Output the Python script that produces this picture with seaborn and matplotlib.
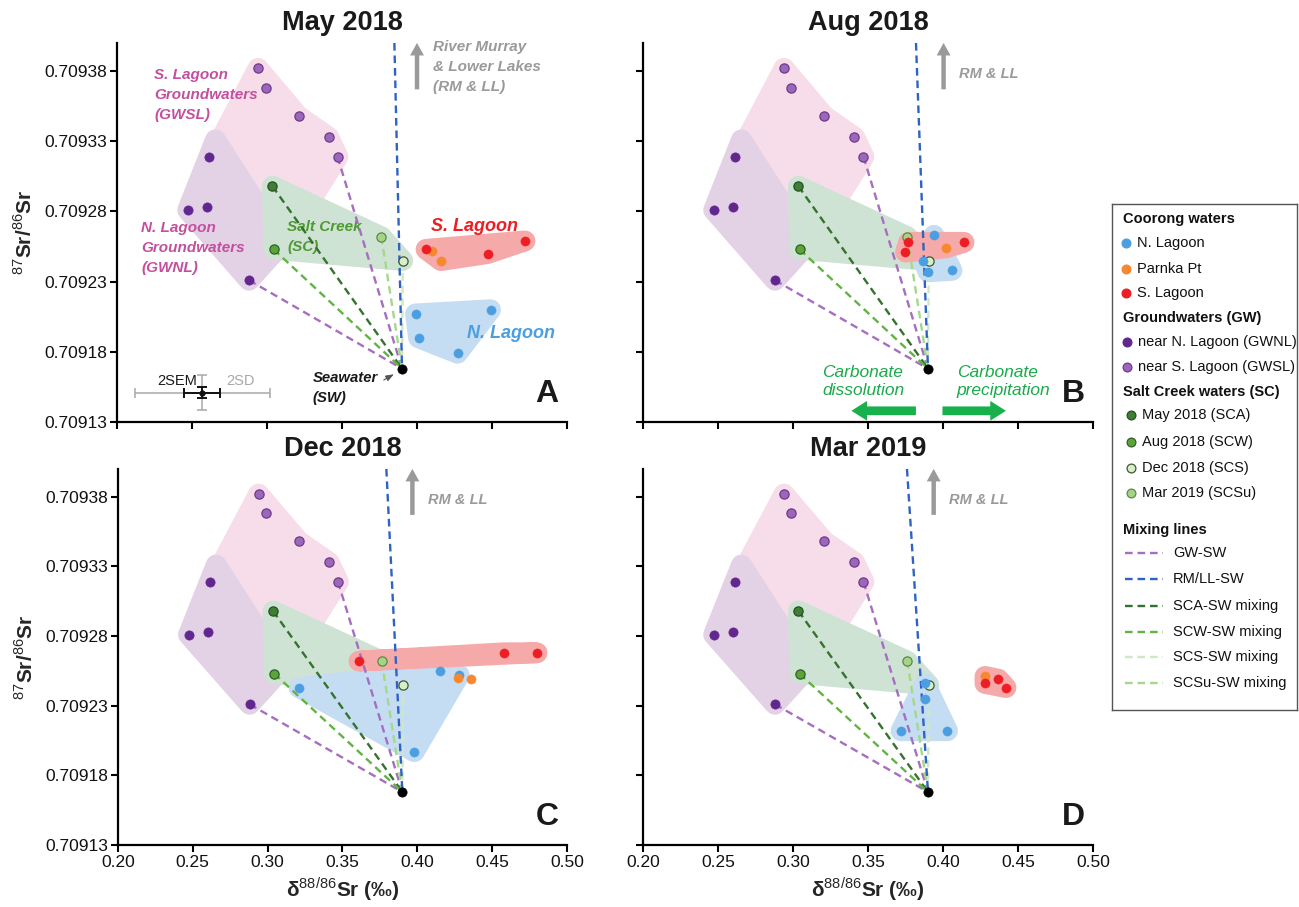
import numpy as np
import matplotlib
matplotlib.use("Agg")
import matplotlib.pyplot as plt
import seaborn as sns
from matplotlib.ticker import FixedLocator, StrMethodFormatter

# ---------------------------------------------------------------- data
campaigns = ["May 2018", "Aug 2018", "Dec 2018", "Mar 2019"]
panel_tags = ["A", "B", "C", "D"]

x_ticks = [0.20, 0.25, 0.30, 0.35, 0.40, 0.45, 0.50]
y_ticks = [0.70913, 0.70918, 0.70923, 0.70928, 0.70933, 0.70938]

# Groundwaters (same in every campaign)
gwsl_d88 = [0.294, 0.299, 0.321, 0.341, 0.347]
gwsl_sr = [0.709382, 0.709368, 0.709348, 0.709333, 0.709319]
gwnl_d88 = [0.2616, 0.2476, 0.2600, 0.2880]
gwnl_sr = [0.709319, 0.709281, 0.709283, 0.709231]

# Outlines of the groundwater fields
gwsl_field_d88 = [0.2940, 0.3209, 0.3411, 0.3473, 0.3222, 0.2689]
gwsl_field_sr = [0.709382, 0.709348, 0.709333, 0.709319, 0.709276, 0.709331]
gwnl_field_d88 = [0.2656, 0.2471, 0.2880, 0.3100]
gwnl_field_sr = [0.709331, 0.709281, 0.709231, 0.709257]

# Salt Creek waters: SCA, SCW, SCS, SCSu
sc_names = ["SCA", "SCW", "SCS", "SCSu"]
sc_d88 = [0.3036, 0.3044, 0.3905, 0.3762]
sc_sr = [0.709298, 0.709253, 0.709245, 0.709262]

# Seawater
sw_d88 = 0.3900
sw_sr = 0.709168

# River Murray & Lower Lakes mixing direction (d88 where the line leaves the top)
rmll_top_d88 = [0.3849, 0.3820, 0.3793, 0.3760]

# Coorong waters per campaign
may_nlag_d88 = [0.399, 0.401, 0.449, 0.427]
may_nlag_sr = [0.709207, 0.709190, 0.709210, 0.709179]
may_pp_d88 = [0.410, 0.416]
may_pp_sr = [0.709252, 0.709245]
may_slag_d88 = [0.406, 0.447, 0.472]
may_slag_sr = [0.709253, 0.709250, 0.709259]

aug_nlag_d88 = [0.394, 0.387, 0.390, 0.406]
aug_nlag_sr = [0.709263, 0.709245, 0.709237, 0.709238]
aug_pp_d88 = [0.402]
aug_pp_sr = [0.709254]
aug_slag_d88 = [0.377, 0.375, 0.414]
aug_slag_sr = [0.709258, 0.709251, 0.709258]

dec_nlag_d88 = [0.321, 0.415, 0.428, 0.398]
dec_nlag_sr = [0.709243, 0.709255, 0.709252, 0.709197]
dec_pp_d88 = [0.427, 0.436]
dec_pp_sr = [0.709250, 0.709249]
dec_slag_d88 = [0.361, 0.458, 0.480]
dec_slag_sr = [0.709262, 0.709268, 0.709268]

mar_nlag_d88 = [0.388, 0.388, 0.372, 0.403]
mar_nlag_sr = [0.709246, 0.709235, 0.709212, 0.709212]
mar_pp_d88 = [0.428]
mar_pp_sr = [0.709251]
mar_slag_d88 = [0.428, 0.437, 0.442]
mar_slag_sr = [0.709246, 0.709249, 0.709243]

# Parnka Pt grouped with the S. Lagoon field?
pp_in_slag_field = [True, True, False, True]

# Analytical uncertainty (2SD, 2SEM)
err_d88_2sd, err_sr_2sd = 0.045, 0.0000125
err_d88_2sem, err_sr_2sem = 0.0118, 0.0000041

coorong = {
    "May 2018": (may_nlag_d88, may_nlag_sr, may_pp_d88, may_pp_sr, may_slag_d88, may_slag_sr),
    "Aug 2018": (aug_nlag_d88, aug_nlag_sr, aug_pp_d88, aug_pp_sr, aug_slag_d88, aug_slag_sr),
    "Dec 2018": (dec_nlag_d88, dec_nlag_sr, dec_pp_d88, dec_pp_sr, dec_slag_d88, dec_slag_sr),
    "Mar 2019": (mar_nlag_d88, mar_nlag_sr, mar_pp_d88, mar_pp_sr, mar_slag_d88, mar_slag_sr),
}

# ---------------------------------------------------------------- style
sns.set_theme(style="white")
plt.rcParams["font.family"] = ["Liberation Sans", "DejaVu Sans"]
plt.rcParams["mathtext.fontset"] = "custom"
plt.rcParams["mathtext.rm"] = "Liberation Sans"
plt.rcParams["mathtext.bf"] = "Liberation Sans:bold"
plt.rcParams["lines.scale_dashes"] = False

C_NLAG, C_PP, C_SLAG = "#4b9fe1", "#f7882f", "#ee1d23"
C_GWNL, C_GWSL, C_GWSL_E = "#62268f", "#9b67b9", "#6e3a8e"
SC_FILL = ["#3f7f35", "#5aa53b", "#d9edcb", "#a6d486"]
SC_EDGE = ["#26501f", "#2f6122", "#3d5a30", "#5b8a45"]
SC_LINE = ["#36722f", "#62b343", "#cfe8c4", "#a5d88b"]
C_GWLINE, C_RMLL = "#a66ec0", "#2e63c4"
F_GWSL, F_GWNL, F_SC, F_NLAG, F_SLAG = "#f7dde9", "#e3d1e5", "#cfe3d5", "#c5ddf2", "#f5a9a9"
DASH = (0, (5.5, 3.5))
TXT_GREY = "#9a9a9a"
MS = 44


def hull(xs, ys):
    pts = sorted(set(zip(xs, ys)))
    if len(pts) < 3:
        return pts

    def cross(o, a, b):
        return (a[0] - o[0]) * (b[1] - o[1]) - (a[1] - o[1]) * (b[0] - o[0])

    lower, upper = [], []
    for p in pts:
        while len(lower) >= 2 and cross(lower[-2], lower[-1], p) <= 0:
            lower.pop()
        lower.append(p)
    for p in reversed(pts):
        while len(upper) >= 2 and cross(upper[-2], upper[-1], p) <= 0:
            upper.pop()
        upper.append(p)
    return lower[:-1] + upper[:-1]


def field(ax, xs, ys, color, z, convex=True):
    pts = hull(xs, ys) if convex else list(zip(xs, ys))
    hx = [p[0] for p in pts]
    hy = [p[1] for p in pts]
    for poly in ax.fill(hx, hy, facecolor=color, edgecolor=color, linewidth=15, zorder=z):
        poly.set_joinstyle("round")


def mix(ax, x0, y0, color):
    ax.plot([x0, sw_d88], [y0, sw_sr], color=color, lw=1.7, ls=DASH, zorder=5)


fig = plt.figure(figsize=(12.99, 9.07), dpi=100)
rects = [
    [0.0901, 0.5347, 0.3464, 0.4179],
    [0.4950, 0.5347, 0.3464, 0.4179],
    [0.0908, 0.0684, 0.3457, 0.4146],
    [0.4950, 0.0684, 0.3464, 0.4146],
]
arrow_d88 = [0.4000, 0.4004, 0.3967, 0.3938]

for i, (camp, tag) in enumerate(zip(campaigns, panel_tags)):
    ax = fig.add_axes(rects[i])
    nx, ny, px, py, sx, sy = coorong[camp]

    # fields
    field(ax, gwsl_field_d88, gwsl_field_sr, F_GWSL, 1, convex=False)
    field(ax, gwnl_field_d88, gwnl_field_sr, F_GWNL, 1.1, convex=False)
    field(ax, sc_d88, sc_sr, F_SC, 1.2)
    field(ax, nx, ny, F_NLAG, 1.3)
    if pp_in_slag_field[i]:
        field(ax, sx + px, sy + py, F_SLAG, 1.4)
    else:
        field(ax, sx, sy, F_SLAG, 1.4)

    # mixing lines
    mix(ax, gwsl_d88[-1], gwsl_sr[-1], C_GWLINE)
    mix(ax, gwnl_d88[-1], gwnl_sr[-1], C_GWLINE)
    for k in range(4):
        mix(ax, sc_d88[k], sc_sr[k], SC_LINE[k])
    ax.plot([rmll_top_d88[i], sw_d88], [0.70940, sw_sr], color=C_RMLL, lw=1.7, ls=DASH, zorder=5.5,
            clip_on=False)

    # samples
    sns.scatterplot(x=gwsl_d88, y=gwsl_sr, color=C_GWSL, edgecolor=C_GWSL_E, linewidth=0.9, s=MS,
                    ax=ax, zorder=6)
    sns.scatterplot(x=gwnl_d88, y=gwnl_sr, color=C_GWNL, edgecolor=C_GWNL, linewidth=0.5, s=MS,
                    ax=ax, zorder=6)
    for k in range(4):
        sns.scatterplot(x=[sc_d88[k]], y=[sc_sr[k]], color=SC_FILL[k], edgecolor=SC_EDGE[k],
                        linewidth=0.9, s=MS, ax=ax, zorder=6)
    sns.scatterplot(x=[sw_d88], y=[sw_sr], color="black", edgecolor="black", s=MS, ax=ax, zorder=7)
    sns.scatterplot(x=nx, y=ny, color=C_NLAG, edgecolor=C_NLAG, linewidth=0.3, s=MS, ax=ax, zorder=8)
    sns.scatterplot(x=px, y=py, color=C_PP, edgecolor=C_PP, linewidth=0.3, s=MS, ax=ax, zorder=8.1)
    sns.scatterplot(x=sx, y=sy, color=C_SLAG, edgecolor=C_SLAG, linewidth=0.3, s=MS, ax=ax, zorder=8.2)

    # River Murray & Lower Lakes direction arrow
    ax.annotate("", xy=(arrow_d88[i], 0.709402), xytext=(arrow_d88[i], 0.709365),
                arrowprops=dict(arrowstyle="simple,head_length=0.9,head_width=1.0,tail_width=0.32",
                                color=TXT_GREY, lw=0, mutation_scale=10),
                annotation_clip=False, zorder=9)
    if i == 0:
        ax.text(arrow_d88[i] + 0.0104, 0.709383, "River Murray\n& Lower Lakes\n(RM & LL)",
                color=TXT_GREY, fontsize=11, fontweight="bold", style="italic",
                ha="left", va="center", linespacing=1.53)
    else:
        ax.text(arrow_d88[i] + 0.0104, 0.709378, "RM & LL", color=TXT_GREY, fontsize=10.5,
                fontweight="bold", style="italic", ha="left", va="center")

    # axes cosmetics
    ax.set_xlim(0.20, 0.50)
    ax.set_ylim(0.70913, 0.70940)
    ax.xaxis.set_major_locator(FixedLocator(x_ticks))
    ax.yaxis.set_major_locator(FixedLocator(y_ticks))
    ax.xaxis.set_major_formatter(StrMethodFormatter("{x:.2f}"))
    ax.yaxis.set_major_formatter(StrMethodFormatter("{x:.5f}"))
    sns.despine(ax=ax)
    for sp in ("left", "bottom"):
        ax.spines[sp].set_linewidth(1.6)
        ax.spines[sp].set_color("black")
    ax.tick_params(axis="both", direction="out", length=5, width=1.5, color="black",
                   labelsize=12.5, labelcolor="#111111", bottom=True, left=True, pad=2)
    if i in (0, 1):
        ax.tick_params(axis="x", labelbottom=False)
    else:
        ax.set_xlabel(r"δ$^{88/86}$Sr (‰)", fontsize=15, fontweight="bold", labelpad=4)
    if i in (1, 3):
        ax.tick_params(axis="y", labelleft=False)
    else:
        ax.set_ylabel(r"$^{87}$Sr/$^{86}$Sr", fontsize=15, fontweight="bold", labelpad=6)
    ax.set_title(camp, fontsize=19.5, fontweight="bold", pad=9, color="#1a1a1a")
    ax.text(0.956, 0.075, tag, transform=ax.transAxes, fontsize=23, fontweight="bold",
            ha="center", va="center", color="#1a1a1a")

    if i == 0:
        tkw = dict(fontweight="bold", style="italic", ha="left", va="center")
        ax.text(0.2249, 0.709363, "S. Lagoon\nGroundwaters\n(GWSL)", color="#c2509e", fontsize=11,
                linespacing=1.58, **tkw)
        ax.text(0.2160, 0.709254, "N. Lagoon\nGroundwaters\n(GWNL)", color="#c2509e", fontsize=11,
                linespacing=1.58, **tkw)
        ax.text(0.3133, 0.709262, "Salt Creek\n(SC)", color="#4e9a32", fontsize=11,
                linespacing=1.58, **tkw)
        ax.text(0.3304, 0.709154, "Seawater\n(SW)", color="#1a1a1a", fontsize=10.7,
                linespacing=1.53, **tkw)
        ax.text(0.4096, 0.709269, "S. Lagoon", color=C_SLAG, fontsize=13, fontweight="bold",
                style="italic", ha="left", va="center")
        ax.text(0.4333, 0.709193, "N. Lagoon", color=C_NLAG, fontsize=13, fontweight="bold",
                style="italic", ha="left", va="center")
        ax.annotate("", xy=(0.3862, 0.709165), xytext=(0.3762, 0.709159),
                    arrowprops=dict(arrowstyle="-|>,head_length=0.4,head_width=0.15", color="#555555", lw=0.8),
                    zorder=9)
        # analytical uncertainty
        ex, ey = 0.2567, 0.709151
        ax.errorbar([ex], [ey], xerr=[err_d88_2sd], yerr=[err_sr_2sd], fmt="none",
                    ecolor="#a8a8a8", elinewidth=1.1, capsize=3.5, capthick=1.1, zorder=6)
        ax.errorbar([ex], [ey], xerr=[err_d88_2sem], yerr=[err_sr_2sem], fmt="o", ms=3.5,
                    color="#111111", ecolor="#111111", elinewidth=1.4, capsize=3.5, capthick=1.4, zorder=7)
        ax.text(0.2531, 0.709159, "2SEM", color="#1a1a1a", fontsize=10.5, ha="right", va="center")
        ax.text(0.2729, 0.709159, "2SD", color="#a8a8a8", fontsize=10.5, ha="left", va="center")

    if i == 1:
        ckw = dict(color="#1aaa4a", fontsize=12.5, style="italic", ha="left", va="center",
                   linespacing=1.25)
        ax.text(0.3193, 0.709159, "Carbonate\ndissolution", **ckw)
        ax.text(0.4093, 0.709159, "Carbonate\nprecipitation", **ckw)
        gkw = dict(arrowstyle="simple,head_length=0.75,head_width=0.95,tail_width=0.42",
                   color="#17b04a", lw=0, mutation_scale=15)
        ax.annotate("", xy=(0.3371, 0.709138), xytext=(0.3838, 0.709138), arrowprops=gkw)
        ax.annotate("", xy=(0.4438, 0.709138), xytext=(0.3978, 0.709138), arrowprops=gkw)

# ---------------------------------------------------------------- legend
lax = fig.add_axes([0.8560, 0.2172, 0.1424, 0.5578])
lax.set_xlim(0, 1)
lax.set_ylim(0, 1)
lax.set_xticks([])
lax.set_yticks([])
for sp in lax.spines.values():
    sp.set_visible(True)
    sp.set_color("#555555")
    sp.set_linewidth(1.0)

L_TOP, L_H, L_LEFT, L_W = 204, 506, 1112, 185


def fx(px):
    return (px - L_LEFT) / L_W


def fy(py):
    return 1 - (py - L_TOP) / L_H


def header(py, text):
    lax.text(fx(1123), fy(py), text, fontsize=10.5, fontweight="bold", ha="left", va="center",
             color="#111111")


def point_item(py, mx, tx, text, fc, ec):
    lax.scatter([fx(mx)], [fy(py)], s=40, color=fc, edgecolors=ec, linewidths=0.9, zorder=3)
    lax.text(fx(tx), fy(py), text, fontsize=10.5, ha="left", va="center", color="#111111")


def line_item(py, text, color):
    lax.plot([fx(1125), fx(1163)], [fy(py), fy(py)], color=color, lw=1.7, ls=DASH)
    lax.text(fx(1173), fy(py), text, fontsize=10.5, ha="left", va="center", color="#111111")


header(219, "Coorong waters")
point_item(243, 1126, 1137, "N. Lagoon", C_NLAG, C_NLAG)
point_item(269, 1126, 1137, "Parnka Pt", C_PP, C_PP)
point_item(293, 1126, 1137, "S. Lagoon", C_SLAG, C_SLAG)
header(318, "Groundwaters (GW)")
point_item(342, 1127, 1138, "near N. Lagoon (GWNL)", C_GWNL, C_GWNL)
point_item(367, 1127, 1138, "near S. Lagoon (GWSL)", C_GWSL, C_GWSL_E)
header(392, "Salt Creek waters (SC)")
sc_legend = ["May 2018 (SCA)", "Aug 2018 (SCW)", "Dec 2018 (SCS)", "Mar 2019 (SCSu)"]
for k, py in enumerate([415, 442, 468, 493]):
    point_item(py, 1131, 1142, sc_legend[k], SC_FILL[k], SC_EDGE[k])
header(530, "Mixing lines")
line_item(553, "GW-SW", C_GWLINE)
line_item(579, "RM/LL-SW", C_RMLL)
for k, py in enumerate([606, 632, 657, 683]):
    line_item(py, f"{sc_names[k]}-SW mixing", SC_LINE[k])

fig.savefig("out.png", dpi=100)
